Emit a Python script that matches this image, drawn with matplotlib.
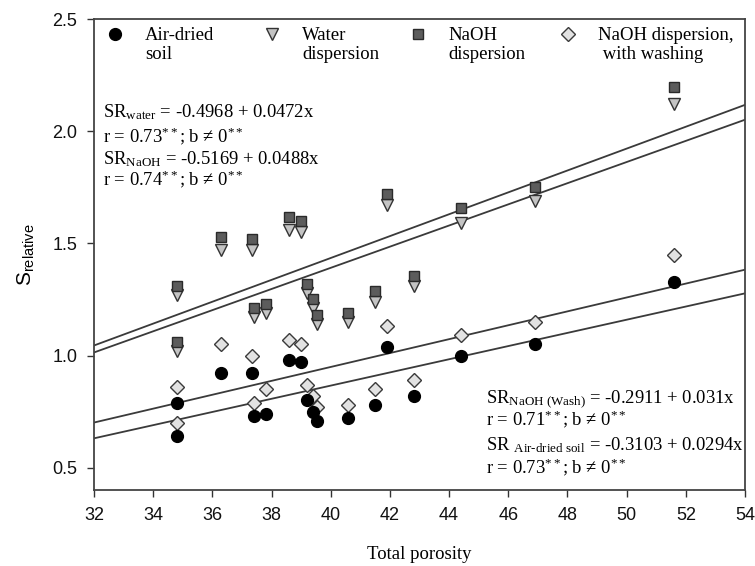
import matplotlib
matplotlib.use('Agg')
import numpy as np
import matplotlib.pyplot as plt
from matplotlib.lines import Line2D
from matplotlib.legend import Legend
from matplotlib.legend_handler import HandlerLine2D

plt.rcParams['mathtext.fontset'] = 'custom'
plt.rcParams['mathtext.rm'] = 'Liberation Serif'
plt.rcParams['mathtext.it'] = 'Liberation Serif:italic'
plt.rcParams['mathtext.sf'] = 'Liberation Sans'

# ---- data ----
porosity = [34.8, 34.8, 36.3, 37.35, 37.4, 37.8, 38.6, 39.0, 39.2, 39.4, 39.55,
            40.6, 41.5, 41.9, 42.8, 44.4, 46.9, 51.6]
air_dried = [0.79, 0.64, 0.92, 0.92, 0.73, 0.74, 0.98, 0.97, 0.80, 0.75, 0.71,
             0.72, 0.78, 1.04, 0.82, 1.00, 1.05, 1.33]
naoh_wash = [0.86, 0.70, 1.05, 1.00, 0.79, 0.85, 1.07, 1.05, 0.87, 0.82, 0.77,
             0.78, 0.85, 1.13, 0.89, 1.09, 1.15, 1.45]
water_disp = [1.27, 1.02, 1.47, 1.47, 1.17, 1.19, 1.56, 1.55, 1.28, 1.21, 1.14,
              1.15, 1.24, 1.67, 1.31, 1.59, 1.69, 2.12]
naoh_disp = [1.31, 1.06, 1.53, 1.52, 1.21, 1.23, 1.62, 1.60, 1.32, 1.25, 1.18,
             1.19, 1.29, 1.72, 1.355, 1.66, 1.75, 2.20]

reg_names = ['water', 'naoh', 'wash', 'air']
reg_intercepts = [-0.4968, -0.5169, -0.2911, -0.3103]
reg_slopes = [0.0472, 0.0488, 0.031, 0.0294]

x_ticks = [32, 34, 36, 38, 40, 42, 44, 46, 48, 50, 52, 54]
y_ticks = [0.5, 1.0, 1.5, 2.0, 2.5]


class RaisedHandler(HandlerLine2D):
    def __init__(self, dy, **kw):
        super().__init__(**kw)
        self.dy = dy

    def create_artists(self, legend, orig_handle, xdescent, ydescent, width,
                       height, fontsize, trans):
        arts = super().create_artists(legend, orig_handle, xdescent, ydescent,
                                      width, height, fontsize, trans)
        for a in arts:
            a.set_ydata(np.asarray(a.get_ydata(), dtype=float) + self.dy)
        return arts


# ---- figure ----
fig = plt.figure(figsize=(7.55, 5.66), dpi=100)
ax = fig.add_axes([0.1245, 0.1343, 0.8623, 0.8316])
ax.set_xlim(32, 54)
ax.set_ylim(0.4, 2.5)

line_col = '#3a3a3a'
for b0, b1 in zip(reg_intercepts, reg_slopes):
    xs = [32, 54]
    ax.plot(xs, [b0 + b1 * x for x in xs], color=line_col, lw=1.3, zorder=2)

ms = 8
styles = [
    ('Air-dried\nsoil', air_dried, dict(marker='o', mfc='black', mec='black', ms=ms + 0.5)),
    ('Water\ndispersion', water_disp, dict(marker='v', mfc='#c4c4c4', mec='#333333', ms=ms + 0.5)),
    ('NaOH\ndispersion', naoh_disp, dict(marker='s', mfc='#5c5c5c', mec='#2a2a2a', ms=ms - 0.5)),
    ('NaOH dispersion,\n with washing', naoh_wash, dict(marker='D', mfc='#e2e2e2', mec='#3a3a3a', ms=ms - 1)),
]
draw_order = [1, 2, 3, 0]
for i in draw_order:
    lab, vals, st = styles[i]
    ax.plot(porosity, vals, ls='none', mew=1.0, zorder=3, **st)

# legend entries placed individually
serif = ['Liberation Serif', 'DejaVu Serif']
fs_leg = 13.5
leg_x = [0.0178, 0.259, 0.4833, 0.7137]
for (lab, vals, st), lx in zip(styles, leg_x):
    h = Line2D([], [], ls='none', mew=1.0, **st)
    lg = Legend(ax, [h], [lab], loc='upper left', bbox_to_anchor=(lx, 0.984),
                frameon=False, handlelength=1.0, handletextpad=1.1,
                borderpad=0.0, borderaxespad=0.0,
                prop={'family': serif, 'size': fs_leg},
                handler_map={Line2D: RaisedHandler(0.6 * fs_leg)})
    ax.add_artist(lg)

# equations
fs_eq = 13.4
ax.text(32.3, 2.063, r'SR$_{\mathrm{water}}$ = -0.4968 + 0.0472x', family=serif, fontsize=fs_eq, va='baseline')
ax.text(32.3, 1.951, r'r = 0.73$^{**}$; b ≠ 0$^{**}$', family=serif, fontsize=fs_eq, va='baseline')
ax.text(32.3, 1.854, r'SR$_{\mathrm{NaOH}}$ = -0.5169 + 0.0488x', family=serif, fontsize=fs_eq, va='baseline')
ax.text(32.3, 1.760, r'r = 0.74$^{**}$; b ≠ 0$^{**}$', family=serif, fontsize=fs_eq, va='baseline')

ax.text(45.24, 0.792, r'SR$_{\mathrm{NaOH\ (Wash)}}$ = -0.2911 + 0.031x', family=serif, fontsize=fs_eq, va='baseline')
ax.text(45.24, 0.686, r'r = 0.71$^{**}$; b ≠ 0$^{**}$', family=serif, fontsize=fs_eq, va='baseline')
ax.text(45.24, 0.576, r'SR $_{\mathrm{Air}\text{-}\mathrm{dried\ soil}}$ = -0.3103 + 0.0294x', family=serif, fontsize=fs_eq, va='baseline')
ax.text(45.24, 0.474, r'r = 0.73$^{**}$; b ≠ 0$^{**}$', family=serif, fontsize=fs_eq, va='baseline')

# axes styling
ax.set_xticks(x_ticks)
ax.set_yticks(y_ticks)
ax.set_xticklabels([str(t) for t in x_ticks])
ax.set_yticklabels([f'{t:.1f}' for t in y_ticks])
ax.tick_params(direction='out', length=5, width=1.0, colors='#333333', labelsize=13,
               top=False, right=False, pad=7)
for lbl in ax.get_xticklabels() + ax.get_yticklabels():
    lbl.set_family(['Liberation Sans', 'DejaVu Sans'])
    lbl.set_color('#111111')
for sp in ax.spines.values():
    sp.set_color('#444444')
    sp.set_linewidth(1.3)

ax.set_xlabel('Total porosity', family=serif, fontsize=13.5, labelpad=16)
ax.set_ylabel(r'S$_{\mathsf{relative}}$', family=['Liberation Sans', 'DejaVu Sans'], fontsize=15, labelpad=12)

fig.savefig('out.png', dpi=100)
